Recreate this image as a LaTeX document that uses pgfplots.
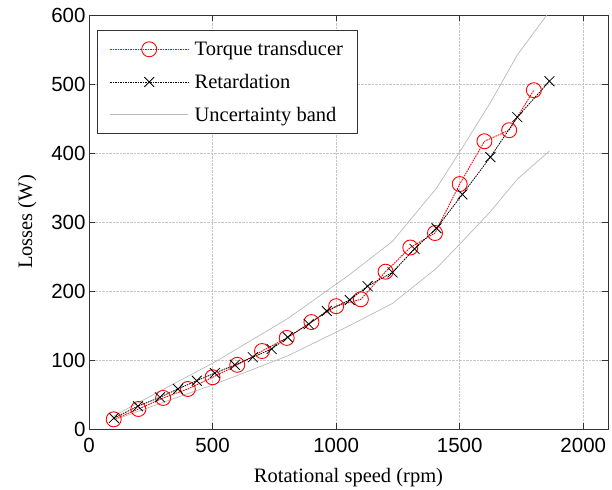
\documentclass[border=0pt]{standalone}
\usepackage{pgfplots}
\pgfplotsset{compat=1.18}
\usepackage{fontspec}
\setmainfont{Liberation Serif}
\setsansfont{Liberation Sans}
\begin{document}
\begin{tikzpicture}
\begin{axis}[
  scale only axis, width=519pt, height=414pt,
  xmin=0, xmax=2100, ymin=0, ymax=600,
  xtick={0,500,1000,1500,2000}, ytick={0,100,...,600},
  tick align=inside, tick pos=both,
  major tick length=6pt,
  grid=major,
  grid style={densely dotted, gray!45, line width=0.6pt},
  axis line style={line width=0.8pt, black!80},
  tick style={black!80, line width=0.6pt},
  /pgf/number format/assume math mode=true,
  /pgf/number format/set thousands separator={},
  ticklabel style={font=\sffamily\fontsize{20.5}{23}\selectfont},
  xticklabel style={yshift=-6pt},
  label style={font=\fontsize{20.5}{23}\selectfont},
  xlabel={Rotational speed (rpm)},
  ylabel={Losses (W)},
  xlabel style={yshift=-8pt},
  ylabel style={yshift=8pt},
  legend style={at={(0.016,0.963)}, anchor=north west, font=\fontsize{20.5}{24}\selectfont,
    draw=black!80, line width=0.8pt, inner xsep=12pt, inner ysep=9pt, row sep=13pt},
  legend cell align=left,
  legend image code/.code={\draw[#1, line width=1pt] (0pt,0.3pt) -- (78pt,0.3pt); \draw[#1, only marks] plot coordinates {(39pt,0.3pt)}; \path (82pt,0pt);},
]
\addplot[draw=red, color=red, dash pattern=on 1.6pt off 0.9pt, line width=0.9pt, mark=o, mark size=7.5pt, mark options={solid, line width=0.9pt, draw=red}] coordinates {
(100,14) (200,29) (300,45) (400,58) (500,75) (600,93) (700,113) (800,132) (900,155)
(1000,178) (1100,188) (1200,228) (1300,263) (1400,284) (1500,355) (1600,417) (1700,433) (1800,491)};
\addlegendentry{Torque transducer}
\addplot[draw=black, color=black, dash pattern=on 1.6pt off 0.9pt, line width=0.8pt, mark=x, mark size=7pt, mark options={solid, line width=0.8pt}] coordinates {
(101,16) (198,33) (287,46) (360,58) (436,70) (509,81) (590,93) (663,104) (739,116) (804,133)
(889,152) (962,171) (1055,187) (1127,207) (1228,227) (1317,261) (1406,291) (1511,340) (1624,394) (1733,452) (1863,504)};
\addlegendentry{Retardation}
\addplot[draw=gray!55, color=gray!55, line width=0.7pt] coordinates {
(101,19) (287,55) (509,97) (804,160) (1055,224) (1228,272) (1406,349) (1511,408) (1624,473) (1733,542) (1863,605)};
\addlegendentry{Uncertainty band}
\addplot[draw=gray!55, color=gray!55, line width=0.7pt, forget plot] coordinates {
(101,13) (287,37) (509,65) (804,106) (1055,150) (1228,182) (1406,233) (1511,272) (1624,315) (1733,362) (1863,403)};
\end{axis}
\path ([shift={(-89pt,-60pt)}]current axis.south west) rectangle ([shift={(4pt,15pt)}]current axis.north east);
\end{tikzpicture}
\end{document}
